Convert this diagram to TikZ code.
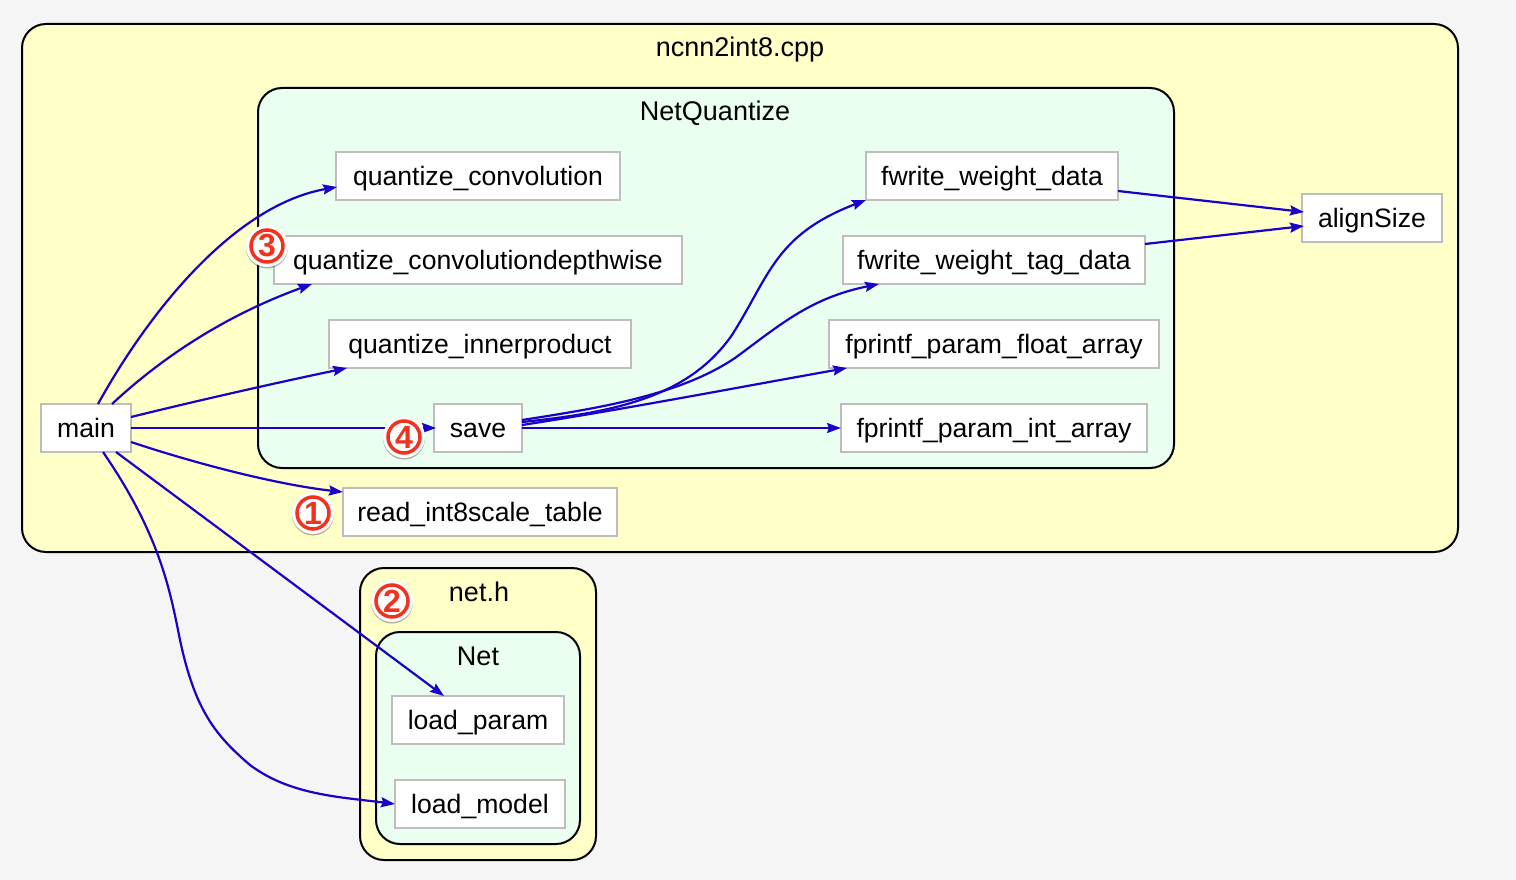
\documentclass[tikz,border=0pt]{standalone}
\usepackage{fontspec}
\setmainfont{Liberation Sans}
\usetikzlibrary{arrows.meta,shadows}
\definecolor{bgc}{HTML}{F5F5F5}
\definecolor{yel}{HTML}{FFFFC8}
\definecolor{mint}{HTML}{EAFFEF}
\definecolor{edgec}{HTML}{1A00C8}
\definecolor{boxc}{HTML}{BDBDBD}
\definecolor{badge}{HTML}{F0321E}
\tikzset{
  x=1pt,y=-1pt,
  cluster/.style={draw=black,line width=2pt,rounded corners=24pt,inner sep=0pt,fill=#1},
  lab/.style={font=\fontsize{27}{30}\selectfont,text=black,inner sep=0pt,anchor=base},
  fn/.style={draw=boxc,line width=2pt,fill=white,inner sep=0pt,outer sep=0pt,minimum height=48pt,
    font=\fontsize{26.6}{30}\selectfont,text=black,text height=21pt,text depth=2pt},
  edge/.style={draw=edgec,line width=2.2pt,-{Stealth[length=14pt,width=10pt,inset=2pt]}},
  halo/.style={circle,fill=white,draw=none,minimum size=42pt,inner sep=0pt,
    drop shadow={shadow xshift=0pt,shadow yshift=-1.5pt,opacity=0.3,fill=black}},
  ringmark/.style={circle,draw=badge,line width=3.5pt,fill=white,minimum size=32pt,inner sep=0pt,
    font=\fontsize{32}{32}\bfseries\selectfont,text=badge},
}
\begin{document}
\begin{tikzpicture}
\fill[bgc] (0,0) rectangle (1516,880);
\useasboundingbox (0,0) rectangle (1516,880);
% clusters
\node[cluster=yel,minimum width=1436pt,minimum height=528pt] (cA) at (740,288) {};
\node[cluster=mint,minimum width=916pt,minimum height=380pt] (cB) at (716,278) {};
\node[cluster=yel,minimum width=236pt,minimum height=292pt] (cC) at (478,714) {};
\node[cluster=mint,minimum width=204pt,minimum height=212pt] (cD) at (478,738) {};
\node[lab] (tA) at (740,57) {ncnn2int8.cpp};
\node[lab] (tB) at (715,121) {NetQuantize};
\node[lab] (tC) at (479,601) {net.h};
\node[lab] (tD) at (478,665) {Net};
% functions
\node[fn,minimum width=90pt] (main) at (86,428) {main};
\node[fn,minimum width=284pt] (qc) at (478,176) {quantize\_convolution};
\node[fn,minimum width=408pt] (qd) at (478,260) {quantize\_convolutiondepthwise};
\node[fn,minimum width=302pt] (qi) at (480,344) {quantize\_innerproduct};
\node[fn,minimum width=88pt] (save) at (478,428) {save};
\node[fn,minimum width=252pt] (fw) at (992,176) {fwrite\_weight\_data};
\node[fn,minimum width=302pt] (ft) at (994,260) {fwrite\_weight\_tag\_data};
\node[fn,minimum width=330pt] (ff) at (994,344) {fprintf\_param\_float\_array};
\node[fn,minimum width=306pt] (fi) at (994,428) {fprintf\_param\_int\_array};
\node[fn,minimum width=140pt] (al) at (1372,218) {alignSize};
\node[fn,minimum width=274pt] (rd) at (480,512) {read\_int8scale\_table};
\node[fn,minimum width=172pt] (lp) at (478,720) {load\_param};
\node[fn,minimum width=170pt] (lm) at (480,804) {load\_model};
% connectors
\draw[edge] ([xshift=12pt]main.north) .. controls (150,310) and (235,205) .. ([xshift=1pt,yshift=-11pt]qc.west);
\draw[edge] ([xshift=26pt]main.north) .. controls (170,350) and (235,312) .. ([xshift=38pt]qd.south west);
\draw[edge] ([yshift=11pt]main.east) .. controls (200,400) and (280,382) .. ([xshift=18pt]qi.south west);
\draw[edge] (main.east) -- ([xshift=2pt]save.west);
\draw[edge] ([yshift=-14pt]main.east) .. controls (200,465) and (280,485) .. ([yshift=-4pt]rd.north west);
\draw[edge] ([xshift=30pt]main.south) -- ([xshift=-34pt]lp.north);
\draw[edge] ([xshift=17pt]main.south) .. controls (160,535) and (170,590) .. (180,640)
  .. controls (195,710) and (215,735) .. (250,765) .. controls (290,795) and (340,797) .. (lm.west);
\draw[edge] ([yshift=6pt]save.east) .. controls (620,412) and (690,395) .. (732,335)
  .. controls (770,275) and (775,235) .. (fw.south west);
\draw[edge] ([yshift=8pt]save.east) .. controls (600,408) and (680,395) .. (735,358)
  .. controls (780,325) and (810,298) .. ([xshift=36pt]ft.south west);
\draw[edge] ([yshift=3pt]save.east) .. controls (620,410) and (740,387) .. ([xshift=18pt]ff.south west);
\draw[edge] (save.east) -- (fi.west);
\draw[edge] ([yshift=-15pt]fw.east) -- ([xshift=2pt,yshift=6pt]al.west);
\draw[edge] ([yshift=16pt]ft.east) -- ([xshift=2pt,yshift=-8pt]al.west);
% badges
\foreach \n/\px/\py/\d in {b3/267/246/3,b4/404/437/4,b1/313/513/1,b2/392/601/2}{
  \node[halo] (h\n) at (\px,\py) {};
  \node[ringmark] (\n) at (\px,\py) {\d};
}
\end{tikzpicture}
\end{document}
